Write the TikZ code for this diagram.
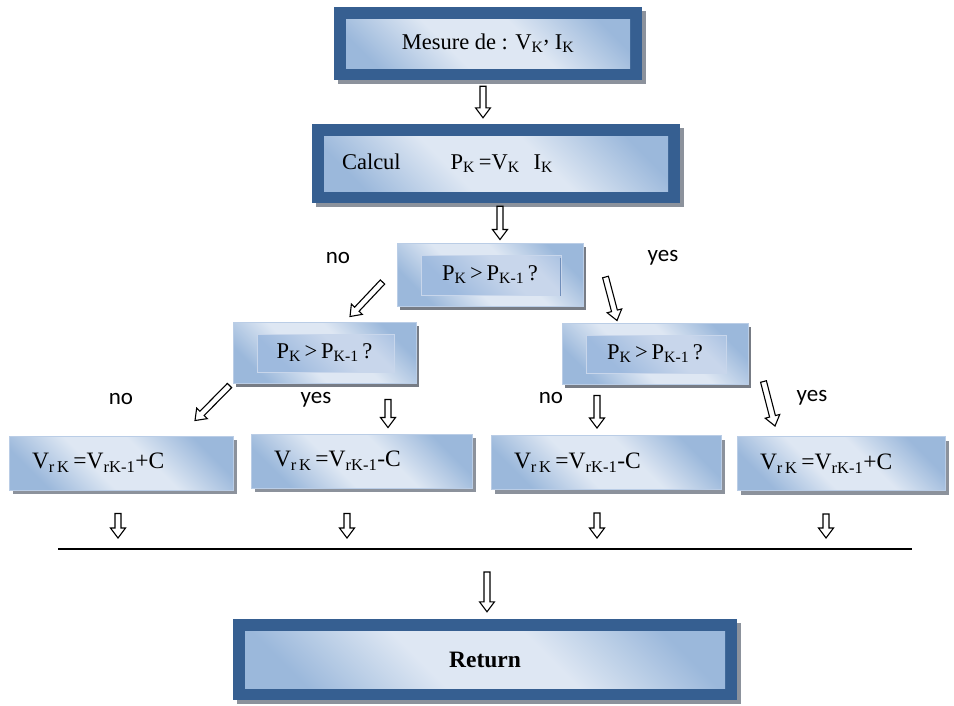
\documentclass[tikz,border=0pt]{standalone}
\usepackage{fontspec}
\setmainfont{Liberation Serif}
\newfontfamily\calibri{Carlito}
\usetikzlibrary{positioning, calc, shadows}

\definecolor{frameblue}{RGB}{54,95,145}
\definecolor{paleblue}{RGB}{222,231,243}
\definecolor{midblue}{RGB}{155,184,219}
\definecolor{edgeblue}{RGB}{186,205,230}
\definecolor{innerblue}{RGB}{158,186,222}
\definecolor{innerpale}{RGB}{200,214,235}
\definecolor{shadowgray}{RGB}{140,146,156}
\definecolor{seamblue}{RGB}{112,142,186}

\pgfdeclarehorizontalshading{boxfade}{100bp}{color(0bp)=(midblue); color(25bp)=(midblue); color(42bp)=(paleblue); color(58bp)=(paleblue); color(75bp)=(midblue); color(100bp)=(midblue)}
\pgfdeclarehorizontalshading{innerfade}{100bp}{color(0bp)=(innerblue); color(35bp)=(innerblue); color(55bp)=(innerpale); color(65bp)=(innerpale); color(80bp)=(innerblue); color(100bp)=(innerblue)}

\begin{document}
\begin{tikzpicture}[x=1pt, y=-1pt,
    framebox/.style={rectangle, fill=frameblue, inner sep=0pt,
      drop shadow={shadow xshift=4pt, shadow yshift=-4pt, fill=shadowgray, opacity=1},
      path picture={\shade[shading=boxfade, shading angle=45]
        ([shift={(12pt,-12pt)}]path picture bounding box.north west) rectangle
        ([shift={(-12pt,12pt)}]path picture bounding box.south east);},
      font=\fontsize{22.5}{26}\selectfont},
    decbox/.style={rectangle, draw=edgeblue, line width=1pt, inner sep=0pt,
      shading=boxfade, shading angle=45,
      drop shadow={shadow xshift=3pt, shadow yshift=-4pt, fill=shadowgray!85!black, opacity=1},
      path picture={\shade[shading=innerfade, shading angle=45, draw=innerpale]
        ([shift={(24pt,-12pt)}]path picture bounding box.north west) rectangle
        ([shift={(-22pt,11pt)}]path picture bounding box.south east);},
      font=\fontsize{22.5}{26}\selectfont},
    resbox/.style={rectangle, draw=edgeblue, line width=1pt, inner xsep=23pt, inner ysep=0pt,
      shading=boxfade, shading angle=45, align=left, minimum height=54pt,
      drop shadow={shadow xshift=4pt, shadow yshift=-4pt, fill=shadowgray, opacity=1},
      font=\fontsize{23.5}{27}\selectfont},
    hollow/.style={draw=black, fill=white, line width=1.1pt, line join=miter, to path={
      let \p1=($(\tikztotarget)!10pt!(\tikztostart)$) in
      ($(\tikztostart)!3pt!90:(\tikztotarget)$) -- ($(\p1)!3pt!90:(\tikztotarget)$)
      -- ($(\p1)!7.5pt!90:(\tikztotarget)$) -- (\tikztotarget)
      -- ($(\p1)!7.5pt!-90:(\tikztotarget)$) -- ($(\p1)!3pt!-90:(\tikztotarget)$)
      -- ($(\tikztostart)!3pt!-90:(\tikztotarget)$) -- cycle}},
    answer/.style={font=\calibri\fontsize{23}{26}\selectfont, inner sep=0pt}
  ]
  \useasboundingbox (0,0) rectangle (954,705);

  % boxes
  \node[framebox, minimum width=308pt, minimum height=73pt] (mesure) at (488,43.5)
    {Mesure de : V\textsubscript{K}\raisebox{.3em}{,} I\textsubscript{K}};
  \node[framebox, minimum width=368pt, minimum height=79pt, text width=308pt, align=left] (calcul) at (496,163.5)
    {Calcul\hspace{50pt}P\textsubscript{K}\,=V\textsubscript{K}\hspace{14pt}I\textsubscript{K}};
  \node[decbox, minimum width=186pt, minimum height=63pt] (dec1) at (490,274.5)
    {P\textsubscript{K}\,>\,P\textsubscript{K-1}\,?};
  \node[decbox, minimum width=183pt, minimum height=61pt] (decL) at (324.5,352.5)
    {P\textsubscript{K}\,>\,P\textsubscript{K-1}\,?};
  \node[decbox, minimum width=186pt, minimum height=61pt] (decR) at (655,353.5)
    {P\textsubscript{K}\,>\,P\textsubscript{K-1}\,?};
  \node[resbox, minimum width=224pt, text width=178pt] (resA) at (121,463)
    {V\textsubscript{r\,K}\,=V\textsubscript{rK-1}+C};
  \node[resbox, minimum width=221pt, text width=175pt] (resB) at (361.5,461)
    {V\textsubscript{r\,K}\,=V\textsubscript{rK-1}-C};
  \node[resbox, minimum width=230pt, text width=184pt] (resC) at (606,462.5)
    {V\textsubscript{r\,K}\,=V\textsubscript{rK-1}-C};
  \node[resbox, minimum width=208pt, text width=162pt] (resD) at (841,463.5)
    {V\textsubscript{r\,K}\,=V\textsubscript{rK-1}+C};
  \node[framebox, minimum width=504pt, minimum height=81pt, font=\bfseries\fontsize{23.5}{27}\selectfont] (ret) at (485,659.5)
    {Return};
  \draw[seamblue, line width=1.5pt] ($(dec1.north east)+(-23,15)$) -- ($(dec1.south east)+(-23,-11)$);

  % answers
  \node[answer] (no1) at (338,258) {no};
  \node[answer] (yes1) at (663,258) {yes};
  \node[answer] (noL) at (121,399) {no};
  \node[answer] (yesL) at (316,400) {yes};
  \node[answer] (noR) at (551,398) {no};
  \node[answer] (yesR) at (812,398) {yes};

  % join line
  \coordinate (joinL) at (58,549);
  \coordinate (joinR) at (912,549);
  \draw[line width=1.5pt] (joinL) -- (joinR);

  % arrow ends
  \coordinate (a1s) at ($(mesure.south)+(-5,6)$);
  \coordinate (a1e) at ($(calcul.north)+(-13,-6)$);
  \coordinate (a2s) at ($(calcul.south)+(4,3)$);
  \coordinate (a2e) at ($(dec1.north)+(10,-3)$);
  \coordinate (a3s) at ($(dec1.west)+(-14,7.5)$);
  \coordinate (a3e) at ($(decL.north)+(25.5,-5)$);
  \coordinate (a4s) at ($(dec1.east)+(22,2.5)$);
  \coordinate (a4e) at ($(decR.north)+(-38,-2)$);
  \coordinate (a5s) at ($(decL.south west)+(-3,2)$);
  \coordinate (a5e) at ($(resA.north)+(74,-15)$);
  \coordinate (a6s) at ($(decL.south)+(63.5,16)$);
  \coordinate (a6e) at ($(resB.north)+(26.5,-6)$);
  \coordinate (a7s) at ($(decR.south)+(-58,11)$);
  \coordinate (a7e) at ($(resC.north)+(-9,-7)$);
  \coordinate (a8s) at ($(decR.south east)+(15,-3)$);
  \coordinate (a8e) at ($(resD.north)+(-66,-10)$);
  \coordinate (bAs) at ($(resA.south)+(-3,23)$);
  \coordinate (bAe) at ($(resA.south |- joinL)+(-3,-11)$);
  \coordinate (bBs) at ($(resB.south)+(-14.5,25)$);
  \coordinate (bBe) at ($(resB.south |- joinL)+(-14.5,-11)$);
  \coordinate (bCs) at ($(resC.south)+(-9,23)$);
  \coordinate (bCe) at ($(resC.south |- joinL)+(-9,-11)$);
  \coordinate (bDs) at ($(resD.south)+(-15,23)$);
  \coordinate (bDe) at ($(resD.south |- joinL)+(-15,-11)$);
  \coordinate (rs) at ($(ret.north |- joinL)+(2,23)$);
  \coordinate (re) at ($(ret.north)+(2,-7)$);

  % arrows
  \draw[hollow] (a1s) to (a1e);
  \draw[hollow] (a2s) to (a2e);
  \draw[hollow] (a3s) to (a3e);
  \draw[hollow] (a4s) to (a4e);
  \draw[hollow] (a5s) to (a5e);
  \draw[hollow] (a6s) to (a6e);
  \draw[hollow] (a7s) to (a7e);
  \draw[hollow] (a8s) to (a8e);
  \draw[hollow] (bAs) to (bAe);
  \draw[hollow] (bBs) to (bBe);
  \draw[hollow] (bCs) to (bCe);
  \draw[hollow] (bDs) to (bDe);
  \draw[hollow] (rs) to (re);
\end{tikzpicture}
\end{document}
